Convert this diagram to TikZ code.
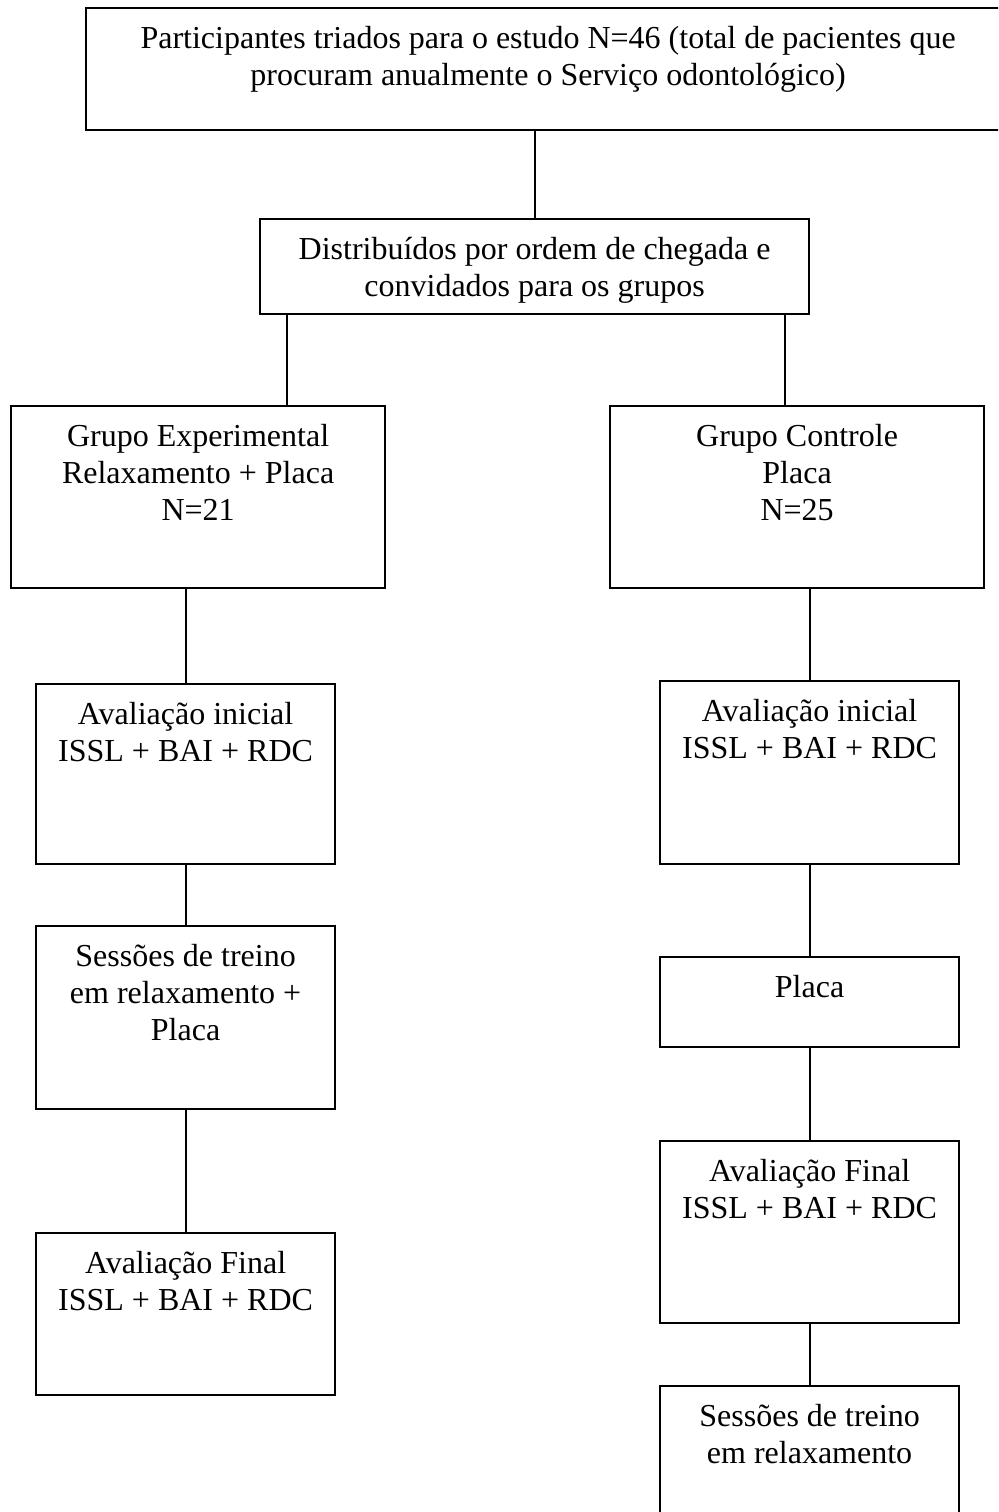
\documentclass[tikz,border=0pt]{standalone}
\usepackage{fontspec}
\setmainfont{Liberation Serif}
\usetikzlibrary{calc}

\begin{document}
\begin{tikzpicture}[x=0.5pt, y=-0.5pt,
    stage/.style={draw, line width=1.1pt, inner sep=0pt, anchor=north west},
    caption/.style={anchor=north, align=center, inner sep=0pt, yshift=-9.5pt,
      font=\fontsize{16}{18.5}\selectfont},
    link/.style={line width=0.95pt}]
    \useasboundingbox (0, 0) rectangle (998, 1512);
    \clip (0, 0) rectangle (998, 1512);

    \node[stage, minimum width=462pt, minimum height=61pt] (triagem) at (85, 7) {};
    \node[caption] (triagem-txt) at (triagem.north)
      {Participantes triados para o estudo N=46 (total de pacientes que\\
       procuram anualmente o Serviço odontológico)};
    \node[stage, minimum width=274.5pt, minimum height=47.5pt] (sorteio) at (259, 218) {};
    \node[caption] (sorteio-txt) at (sorteio.north)
      {Distribuídos por ordem de chegada e\\convidados para os grupos};

    \node[stage, minimum width=187pt, minimum height=91pt] (gexp) at (10, 405) {};
    \node[caption] (gexp-txt) at (gexp.north)
      {Grupo Experimental\\Relaxamento + Placa\\N=21};
    \node[stage, minimum width=187pt, minimum height=91pt] (gctl) at (609, 405) {};
    \node[caption] (gctl-txt) at (gctl.north) {Grupo Controle\\Placa\\N=25};

    \node[stage, minimum width=149.5pt, minimum height=90pt] (expinicial) at (35, 683) {};
    \node[caption] (expinicial-txt) at (expinicial.north)
      {Avaliação inicial\\ISSL + BAI + RDC};
    \node[stage, minimum width=149.5pt, minimum height=91.5pt] (exptreino) at (35, 925) {};
    \node[caption] (exptreino-txt) at (exptreino.north)
      {Sessões de treino\\em relaxamento +\\Placa};
    \node[stage, minimum width=149.5pt, minimum height=81pt] (expfinal) at (35, 1232) {};
    \node[caption] (expfinal-txt) at (expfinal.north)
      {Avaliação Final\\ISSL + BAI + RDC};

    \node[stage, minimum width=149.5pt, minimum height=91.5pt] (ctlinicial) at (659, 680) {};
    \node[caption] (ctlinicial-txt) at (ctlinicial.north)
      {Avaliação inicial\\ISSL + BAI + RDC};
    \node[stage, minimum width=149.5pt, minimum height=45pt] (ctlplaca) at (659, 956) {};
    \node[caption] (ctlplaca-txt) at (ctlplaca.north) {Placa};
    \node[stage, minimum width=149.5pt, minimum height=91pt] (ctlfinal) at (659, 1140) {};
    \node[caption] (ctlfinal-txt) at (ctlfinal.north)
      {Avaliação Final\\ISSL + BAI + RDC};
    \node[stage, minimum width=149.5pt, minimum height=100pt] (ctltreino) at (659, 1385) {};
    \node[caption] (ctltreino-txt) at (ctltreino.north)
      {Sessões de treino\\em relaxamento};

    \coordinate (splitL) at ($(sorteio.south west) + (28, 0)$);
    \coordinate (splitR) at ($(sorteio.south east) + (-25, 0)$);
    \draw[link] (sorteio.north) -- (sorteio.north |- triagem.south);
    \draw[link] (splitL) -- (splitL |- gexp.north);
    \draw[link] (splitR) -- (splitR |- gctl.north);

    \foreach \a/\b in {gexp/expinicial, expinicial/exptreino, exptreino/expfinal,
        gctl/ctlinicial, ctlinicial/ctlplaca, ctlplaca/ctlfinal, ctlfinal/ctltreino}
      \draw[link] (\b.north) -- (\b.north |- \a.south);
\end{tikzpicture}
\end{document}
